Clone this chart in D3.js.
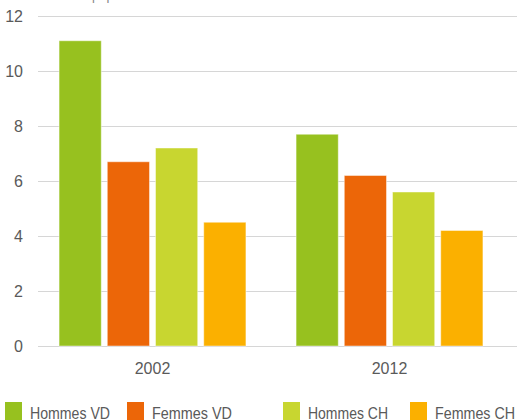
<!DOCTYPE html>
<html>
<head>
<meta charset="utf-8">
<script src="https://cdn.jsdelivr.net/npm/d3@7"></script>
<style>
  body { margin: 0; background: #fff; }
  svg { display: block; font-family: "Liberation Sans", Arial, sans-serif; }
</style>
</head>
<body>
<div id="chart"></div>
<script>
// data
var years = ["2002", "2012"];
var series = ["Hommes VD", "Femmes VD", "Hommes CH", "Femmes CH"];
var colors = ["#97c11f", "#ec6608", "#c8d630", "#fbb000"];
var hommesVD = [11.1, 7.7];
var femmesVD = [6.7, 6.2];
var hommesCH = [7.2, 5.6];
var femmesCH = [4.5, 4.2];
var yTicks = [0, 2, 4, 6, 8, 10, 12];

var values = [hommesVD, femmesVD, hommesCH, femmesCH];
var data = [];
years.forEach(function(y, i) {
  series.forEach(function(s, j) {
    data.push({year: y, serie: s, value: values[j][i], color: colors[j]});
  });
});

var width = 517, height = 420;

var svg = d3.select("#chart")
  .append("svg")
  .attr("width", width)
  .attr("height", height);

var x0 = d3.scaleBand()
  .domain(years)
  .range([34, 508]);

var x1 = d3.scaleBand()
  .domain(series)
  .range([0, x0.bandwidth()])
  .paddingInner(0.125)
  .paddingOuter(0.52);

var y = d3.scaleLinear()
  .domain([0, 12])
  .range([346, 16]);

// unit label, cut off at the top like in the source
svg.append("text")
  .attr("x", 27)
  .attr("y", -0.5)
  .attr("fill", "#888")
  .style("font-size", "13px")
  .text("en % de la population");

// gridlines
svg.append("g")
  .selectAll("line")
  .data(yTicks)
  .enter()
  .append("line")
  .attr("x1", 38)
  .attr("x2", width)
  .attr("y1", function(d) { return y(d) + 0.5; })
  .attr("y2", function(d) { return y(d) + 0.5; })
  .attr("stroke", "#d6d6d6")
  .attr("stroke-width", 1);

// y axis labels
var yAxis = svg.append("g")
  .attr("transform", "translate(23,0)")
  .call(d3.axisLeft(y).tickValues(yTicks).tickSize(0).tickPadding(0));
yAxis.select(".domain").remove();
yAxis.selectAll("text")
  .attr("fill", "#5a5a5a")
  .attr("dy", "0.36em")
  .style("font-size", "16px")
  .style("font-family", "'Liberation Sans', Arial, sans-serif");

// bars
svg.append("g")
  .selectAll("rect")
  .data(data)
  .enter()
  .append("rect")
  .attr("x", function(d) { return x0(d.year) + x1(d.serie); })
  .attr("y", function(d) { return y(d.value); })
  .attr("width", x1.bandwidth())
  .attr("height", function(d) { return y(0) - y(d.value); })
  .attr("fill", function(d) { return d.color; })
  .attr("stroke", "#ffffff")
  .attr("stroke-opacity", 0.45)
  .attr("stroke-width", 1);

// x axis labels
var xAxis = svg.append("g")
  .attr("transform", "translate(0,363)")
  .call(d3.axisBottom(x0).tickSize(0).tickPadding(0));
xAxis.select(".domain").remove();
xAxis.selectAll("text")
  .attr("fill", "#5a5a5a")
  .attr("dy", "0.71em")
  .style("font-size", "16px")
  .style("font-family", "'Liberation Sans', Arial, sans-serif");

// legend
var legendX = [5, 127, 283, 410];
var legend = svg.append("g")
  .selectAll("g")
  .data(series)
  .enter()
  .append("g")
  .attr("transform", function(d, i) { return "translate(" + legendX[i] + ",402)"; });

legend.append("rect")
  .attr("width", 17)
  .attr("height", 18)
  .attr("fill", function(d, i) { return colors[i]; });

legend.append("text")
  .attr("x", 25)
  .attr("y", 17)
  .attr("fill", "#5a5a5a")
  .style("font-size", "17px")
  .attr("textLength", 80)
  .attr("lengthAdjust", "spacingAndGlyphs")
  .text(function(d) { return d; });
</script>
</body>
</html>
